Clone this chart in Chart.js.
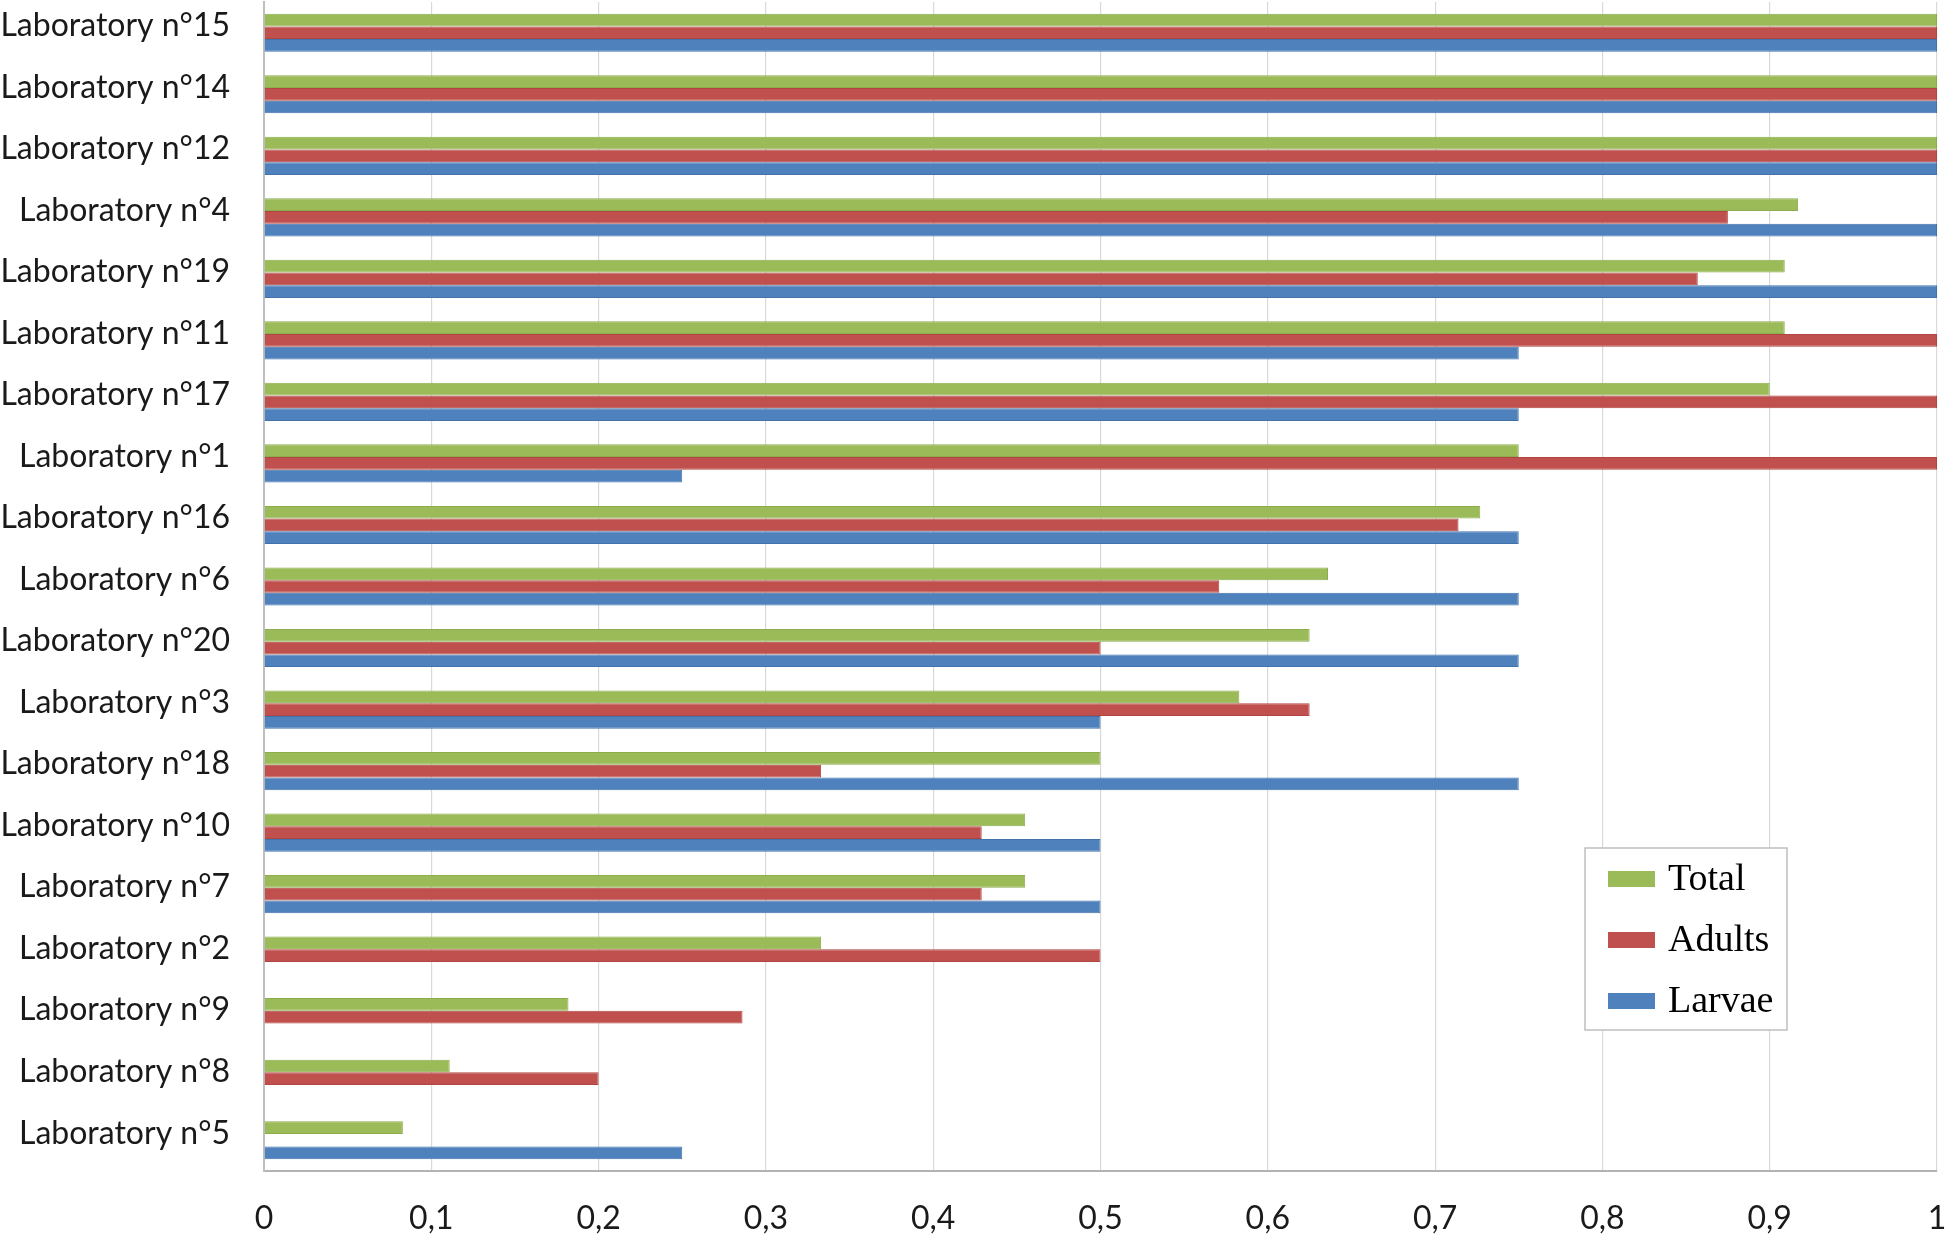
<!DOCTYPE html>
<html>
<head>
<meta charset="utf-8">
<script src="https://cdn.jsdelivr.net/npm/chart.js@4.4.1/dist/chart.umd.min.js"></script>
<style>
  html, body { margin: 0; padding: 0; background: #ffffff; }
  #wrap { width: 1946px; height: 1236px; position: relative; }
</style>
</head>
<body>
<div id="wrap"><canvas id="labChart"></canvas></div>
<script>
const labs = [
  "Laboratory n°15", "Laboratory n°14", "Laboratory n°12", "Laboratory n°4",
  "Laboratory n°19", "Laboratory n°11", "Laboratory n°17", "Laboratory n°1",
  "Laboratory n°16", "Laboratory n°6", "Laboratory n°20", "Laboratory n°3",
  "Laboratory n°18", "Laboratory n°10", "Laboratory n°7", "Laboratory n°2",
  "Laboratory n°9", "Laboratory n°8", "Laboratory n°5"
];

const totalValues = [1, 1, 1, 0.917, 0.909, 0.909, 0.9, 0.75, 0.727, 0.636, 0.625, 0.583, 0.5, 0.455, 0.455, 0.333, 0.182, 0.111, 0.083];
const adultValues = [1, 1, 1, 0.875, 0.857, 1, 1, 1, 0.714, 0.571, 0.5, 0.625, 0.333, 0.429, 0.429, 0.5, 0.286, 0.2, null];
const larvaeValues = [1, 1, 1, 1, 1, 0.75, 0.75, 0.25, 0.75, 0.75, 0.75, 0.5, 0.75, 0.5, 0.5, null, null, null, 0.25];

const xTicks = [0, 0.1, 0.2, 0.3, 0.4, 0.5, 0.6, 0.7, 0.8, 0.9, 1];

const labelFont = { family: "Lato, 'Open Sans', sans-serif", size: 32 };

// legend box drawn inside the plot, like the Excel original
const boxLegend = {
  id: "boxLegend",
  afterDraw(chart) {
    const ctx = chart.ctx;
    const x = 1585, y = 848, w = 202, h = 182;
    ctx.save();
    ctx.fillStyle = "#ffffff";
    ctx.fillRect(x, y, w, h);
    ctx.strokeStyle = "#BFBFBF";
    ctx.lineWidth = 1.5;
    ctx.strokeRect(x, y, w, h);
    ctx.font = "38px 'Liberation Serif', 'Times New Roman', serif";
    ctx.textBaseline = "middle";
    chart.data.datasets.forEach((ds, i) => {
      const cy = y + 31 + i * 61;
      ctx.fillStyle = ds.backgroundColor;
      ctx.fillRect(x + 23, cy - 8, 47, 16);
      ctx.fillStyle = "#000000";
      ctx.fillText(ds.label, x + 83, cy + 1);
    });
    ctx.restore();
  }
};

const ctx = document.getElementById("labChart").getContext("2d");

new Chart(ctx, {
  type: "bar",
  data: {
    labels: labs,
    datasets: [
      { label: "Total", data: totalValues, backgroundColor: "#9BBB59", borderColor: "#8CAD4C", borderWidth: 1 },
      { label: "Adults", data: adultValues, backgroundColor: "#C0504D", borderColor: "#B04542", borderWidth: 1 },
      { label: "Larvae", data: larvaeValues, backgroundColor: "#4F81BD", borderColor: "#4372AB", borderWidth: 1 }
    ]
  },
  options: {
    indexAxis: "y",
    responsive: true,
    maintainAspectRatio: false,
    animation: false,
    layout: { padding: { left: 0, right: 9, top: 2, bottom: 0 } },
    datasets: {
      bar: { categoryPercentage: 0.62, barPercentage: 1.0 }
    },
    scales: {
      x: {
        min: 0,
        max: 1,
        afterBuildTicks(scale) {
          scale.ticks = xTicks.map(v => ({ value: v }));
        },
        afterFit(scale) {
          scale.height = 65;
          scale.paddingLeft = 0;
          scale.paddingRight = 0;
        },
        grid: { color: "#D9D9D9", lineWidth: 1.2, drawTicks: false },
        border: { color: "#B3B3B3", width: 2 },
        ticks: {
          padding: 28,
          color: "#1a1a1a",
          font: labelFont,
          maxRotation: 0,
          autoSkip: false,
          callback: v => String(Math.round(v * 10) / 10).replace(".", ",")
        }
      },
      y: {
        afterFit(scale) {
          scale.width = 264;
          scale.paddingTop = 0;
          scale.paddingBottom = 0;
        },
        grid: { color: "rgba(0,0,0,0)", drawTicks: false },
        border: { color: "#BFBFBF", width: 2 },
        ticks: {
          padding: 34,
          labelOffset: -7,
          color: "#1a1a1a",
          font: labelFont,
          autoSkip: false
        }
      }
    },
    plugins: {
      legend: { display: false },
      tooltip: { enabled: false }
    }
  },
  plugins: [boxLegend]
});
</script>
</body>
</html>
